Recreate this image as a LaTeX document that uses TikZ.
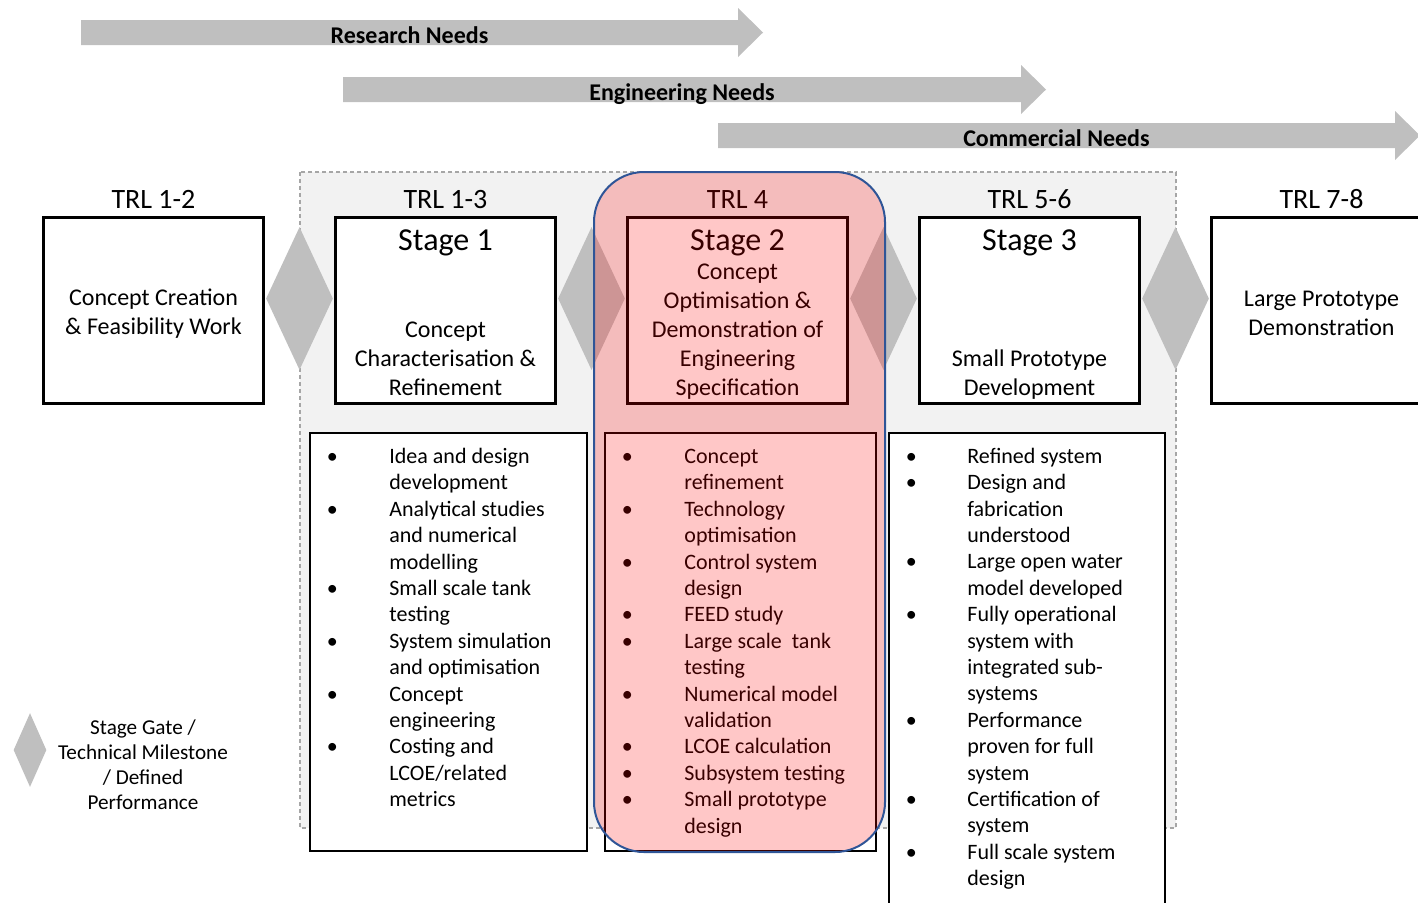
\documentclass[tikz,border=0pt]{standalone}
\usepackage{fontspec}
\setmainfont{Carlito}
\usepackage{tikz}
\usetikzlibrary{positioning, shapes.geometric}
\definecolor{needgray}{HTML}{BFBFBF}
\definecolor{bggray}{HTML}{F2F2F2}
\definecolor{dashgray}{HTML}{A6A6A6}
\definecolor{ovblue}{HTML}{2F5597}
\newcommand{\itembul}{\hspace*{11.5pt}\makebox[0pt]{\textbullet}}

\begin{document}
\begin{tikzpicture}[x=0.5pt, y=-0.5pt]
	\tikzstyle{stagebox} = [ draw, rectangle, line width=1.5pt, fill=white, minimum width=110pt, minimum height=93pt ];
	\tikzstyle{trl} = [ inner sep=0pt, font={\fontsize{14}{16}\selectfont} ];
	\tikzstyle{title} = [ inner sep=0pt, font={\fontsize{16}{19}\selectfont} ];
	\tikzstyle{body} = [ inner sep=0pt, text depth=0pt, align=center, font={\fontsize{12}{14.5}\selectfont} ];
	\tikzstyle{mid} = [ inner sep=0pt, align=center, font={\fontsize{12}{14.5}\selectfont} ];
	\tikzstyle{gate} = [ diamond, fill=needgray, inner sep=0pt, minimum width=33.5pt, minimum height=71.5pt ];
	\tikzstyle{needs} = [ fill=needgray ];
	\tikzstyle{needlabel} = [ anchor=base, inner sep=0pt, font={\fontsize{12}{14}\selectfont\bfseries} ];
	\tikzstyle{listbox} = [ draw, rectangle, line width=1.2pt, fill=white, minimum width=138.3pt ];
	\tikzstyle{listtext} = [ inner sep=0pt, font={\fontsize{11}{13.2}\selectfont} ];
	\tikzstyle{legend} = [ align=center, inner sep=0pt, font={\fontsize{10.6}{12.5}\selectfont} ];
	\tikzstyle{area} = [ draw=dashgray, fill=bggray, line width=0.7pt, dash pattern=on 2pt off 1.5pt ];
	\tikzstyle{focus} = [ draw=ovblue, line width=1pt, fill=red, fill opacity=0.22, rounded corners=25pt ];

	\useasboundingbox (0,0) rectangle (1418,902);
	\clip (0,0) rectangle (1418,902);

	\foreach \xa/\xb/\yt/\tx [count=\i] in {81/738/20/Research Needs, 343/1021/77/Engineering Needs, 718/1395/123/Commercial Needs} {
		\fill[needs] (\xa,\yt) -- (\xb,\yt) -- (\xb,\yt-12) -- (\xb+25,\yt+12.5) -- (\xb,\yt+37) -- (\xb,\yt+25) -- (\xa,\yt+25) -- cycle;
		\node[needlabel] (n\i) at ({(\xa+\xb)/2},\yt+23) {\tx};
	}

	\draw[area] (300,172) rectangle (1176,828);

	\node[stagebox] (a) at (153.5,310.5) {};
	\node[stagebox, right=34.5pt of a] (s1) {};
	\node[stagebox, right=34.5pt of s1] (s2) {};
	\node[stagebox, right=34.5pt of s2] (s3) {};
	\node[stagebox, right=34.5pt of s3] (b) {};

	\node[mid] (ca) at ([yshift=-1.5pt]a.center) {Concept Creation\\\& Feasibility Work};
	\node[mid] (cb) at ([yshift=-1.5pt]b.center) {Large Prototype\\Demonstration};

	\foreach \n/\t in {a/TRL 1-2, s1/TRL 1-3, s2/TRL 4, s3/TRL 5-6, b/TRL 7-8}
		\node[trl, above=3.5pt of \n] (t\n) {\t};

	\foreach \n/\i in {s1/1, s2/2, s3/3}
		\node[title, below=6.5pt of \n.north] (h\n) {Stage \i};

	\node[body, above=4.5pt of s1.south] (c1) {Concept\\Characterisation \&\\Refinement};
	\node[body, above=4.5pt of s2.south] (c2) {Concept\\Optimisation \&\\Demonstration of\\Engineering\\Specification};
	\node[body, above=4.5pt of s3.south] (c3) {Small Prototype\\Development};

	\foreach \x [count=\i] in {299.5, 591.5, 883.5, 1175.5}
		\node[gate] (g\i) at (\x,298.5) {};

	\node[listbox, minimum height=208.8pt] (l1) at (448.5,642) {};
	\node[listbox, minimum width=135.3pt, minimum height=208.8pt] (l2) at (740.5,642) {};
	\node[listbox, minimum width=137.8pt, minimum height=263pt] (l3) at (1027,696) {};

	\node[listtext, below right=6.3pt and 0pt of l1.north west] (i1) {\begin{tabular}{@{}p{40pt}@{}l@{}}
		\itembul & Idea and design\\
		& development\\
		\itembul & Analytical studies\\
		& and numerical\\
		& modelling\\
		\itembul & Small scale tank\\
		& testing\\
		\itembul & System simulation\\
		& and optimisation\\
		\itembul & Concept\\
		& engineering\\
		\itembul & Costing and\\
		& LCOE/related\\
		& metrics
	\end{tabular}};

	\node[listtext, below right=6.3pt and 0pt of l2.north west] (i2) {\begin{tabular}{@{}p{40pt}@{}l@{}}
		\itembul & Concept\\
		& refinement\\
		\itembul & Technology\\
		& optimisation\\
		\itembul & Control system\\
		& design\\
		\itembul & FEED study\\
		\itembul & Large scale\ \ tank\\
		& testing\\
		\itembul & Numerical model\\
		& validation\\
		\itembul & LCOE calculation\\
		\itembul & Subsystem testing\\
		\itembul & Small prototype\\
		& design
	\end{tabular}};

	\node[listtext, below right=6.3pt and 0pt of l3.north west] (i3) {\begin{tabular}{@{}p{39.5pt}@{}l@{}}
		\itembul & Refined system\\
		\itembul & Design and\\
		& fabrication\\
		& understood\\
		\itembul & Large open water\\
		& model developed\\
		\itembul & Fully operational\\
		& system with\\
		& integrated sub-\\
		& systems\\
		\itembul & Performance\\
		& proven for full\\
		& system\\
		\itembul & Certification of\\
		& system\\
		\itembul & Full scale system\\
		& design
	\end{tabular}};

	\node[gate, minimum width=16.5pt, minimum height=37pt] (gl) at (30,750) {};
	\node[legend] (gt) at (143,765) {Stage Gate /\\Technical Milestone\\/ Defined\\Performance};

	\draw[focus] (594,172) rectangle (885,852);
\end{tikzpicture}
\end{document}
